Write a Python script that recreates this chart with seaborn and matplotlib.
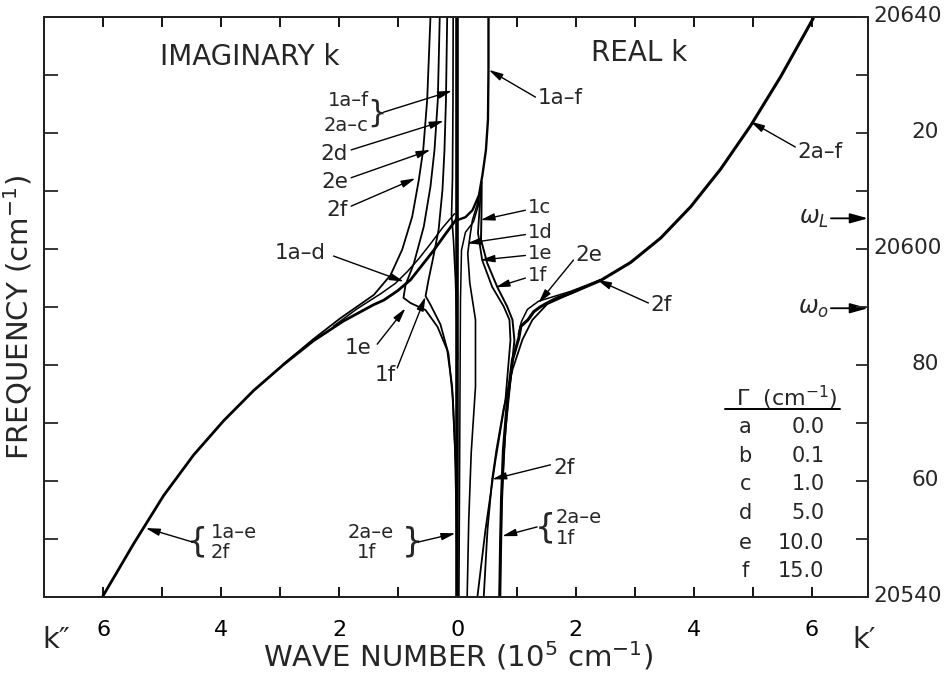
import matplotlib
matplotlib.use("Agg")
import matplotlib.pyplot as plt
import pandas as pd
import seaborn as sns

# ---------------------------------------------------------------------------
# Dispersion curves: wave number k (1e5 cm^-1) vs frequency (cm^-1).
# Imaginary parts k'' are drawn on the negative side, real parts k' on the
# positive side.  Branch 1 / 2, damping cases a-f.
# ---------------------------------------------------------------------------

# imaginary parts
im_1ad_k = [0.0, -0.203, -0.401, -0.609, -0.795, -1.015, -1.247, -1.421, -1.675, -1.929,
            -2.437, -2.944, -3.452, -3.959, -4.467, -4.975, -5.482, -6.007]
im_1ad_w = [20605.3, 20602.5, 20599.7, 20597.0, 20594.6, 20592.7, 20591.1, 20590.3,
            20588.9, 20587.5, 20584.1, 20580.0, 20575.5, 20570.3, 20564.4, 20557.4,
            20549.1, 20540.0]

im_1d_k = [-0.05, -0.25, -0.45, -0.65, -0.85, -1.05, -1.30, -1.70, -2.10]
im_1d_w = [20606.0, 20603.6, 20600.9, 20598.3, 20596.0, 20594.0, 20592.2, 20589.6, 20586.6]

im_2f_k = [-0.457, -0.513, -0.580, -0.655, -0.766, -0.936, -1.134, -1.416, -1.980, -2.437, -2.944]
im_2f_w = [20640.0, 20625.6, 20617.0, 20611.8, 20605.5, 20599.8, 20595.4, 20592.0,
           20588.0, 20584.4, 20580.1]

im_2e_k = [-0.30, -0.333, -0.389, -0.457, -0.570, -0.739, -0.88, -0.914, -0.795,
           -0.541, -0.338, -0.174, -0.090, -0.042, -0.017, 0.0]
im_2e_w = [20640.0, 20625.6, 20617.0, 20610.7, 20603.8, 20597.4, 20593.7, 20591.5,
           20590.6, 20589.4, 20586.5, 20582.5, 20576.2, 20565.3, 20553.2, 20540.0]

im_2d_k = [-0.174, -0.195, -0.22, -0.254, -0.32, -0.42, -0.49, -0.54, -0.457, -0.288,
           -0.152, -0.076, -0.025, 0.0]
im_2d_w = [20640.0, 20625.6, 20617.0, 20610.1, 20603.2, 20598.0, 20594.6, 20591.8,
           20590.3, 20586.9, 20581.8, 20573.9, 20561.8, 20549.7]

im_ax_k = [-0.073, -0.076, -0.085, -0.10, -0.068, -0.034, -0.008, 0.0]
im_ax_w = [20640.0, 20625.6, 20611.8, 20605.8, 20601.5, 20594.6, 20586.0, 20581.0]

axis_k = [0.0, 0.0]
axis_w = [20540.0, 20640.0]

# real parts
re_1_k = [0.525, 0.525, 0.516, 0.482, 0.423, 0.364, 0.254, 0.135, 0.0]
re_1_w = [20640.0, 20630.8, 20622.2, 20617.0, 20612.7, 20609.2, 20606.6, 20605.4, 20604.9]

re_1c_k = [0.364, 0.355, 0.271, 0.135, 0.068, 0.051, 0.042, 0.034, 0.025]
re_1c_w = [20609.2, 20607.5, 20604.6, 20602.8, 20599.7, 20591.1, 20573.9, 20556.6, 20540.0]

re_1d_k = [0.364, 0.333, 0.254, 0.22, 0.174, 0.208, 0.305, 0.305, 0.232, 0.191, 0.164]
re_1d_w = [20609.2, 20607.5, 20604.9, 20602.7, 20599.2, 20594.1, 20587.7, 20576.2,
           20564.7, 20553.2, 20540.0]

re_1e_k = [0.40, 0.372, 0.347, 0.418, 0.587, 0.783, 0.88, 0.897, 0.812, 0.643, 0.474, 0.338]
re_1e_w = [20611.0, 20606.6, 20602.7, 20598.0, 20593.4, 20590.0, 20587.7, 20584.2,
           20573.9, 20563.5, 20551.5, 20540.0]

re_1f_k = [0.41, 0.406, 0.398, 0.503, 0.672, 0.841, 0.931, 0.964, 0.897, 0.812, 0.745,
           0.728, 0.716]
re_1f_w = [20611.5, 20605.8, 20601.5, 20597.5, 20593.4, 20590.0, 20587.7, 20584.2,
           20577.3, 20568.7, 20556.6, 20548.0, 20540.0]

re_2_k = [6.024, 5.470, 4.964, 4.456, 3.948, 3.440, 2.932, 2.425, 1.917, 1.692, 1.518,
          1.396, 1.291, 1.193, 1.074, 1.037, 0.931, 0.846, 0.778, 0.745, 0.728, 0.716]
re_2_w = [20639.7, 20629.6, 20621.2, 20613.7, 20607.2, 20601.8, 20597.6, 20594.5,
          20592.3, 20591.5, 20590.6, 20589.9, 20589.1, 20587.7, 20586.6, 20584.5,
          20580.8, 20573.9, 20565.3, 20556.6, 20548.0, 20540.0]

re_2e_k = [2.42, 1.912, 1.624, 1.371, 1.184, 1.083, 1.03]
re_2e_w = [20594.6, 20592.6, 20591.7, 20590.9, 20589.5, 20587.4, 20585.2]

re_2f_k = [2.42, 1.912, 1.518, 1.269, 1.100, 0.931, 0.778, 0.660, 0.587, 0.508, 0.445]
re_2f_w = [20594.6, 20592.2, 20590.4, 20587.7, 20584.3, 20579.1, 20572.2, 20565.3,
           20560.2, 20551.5, 20540.0]

# damping table
gamma_case = ["a", "b", "c", "d", "e", "f"]
gamma_val = [0.0, 0.1, 1.0, 5.0, 10.0, 15.0]

# axis labelling
k_ticks = [-6, -4, -2, 0, 2, 4, 6]
k_tick_labels = ["6", "4", "2", "0", "2", "4", "6"]
w_right = [20640, 20620, 20600, 20580, 20560, 20540]
w_right_labels = ["20640", "20", "20600", "80", "60", "20540"]
omega_L = 20605.2
omega_0 = 20589.7

curves = [
    ("axis", axis_k, axis_w, 2.6),
    ("im 1a-d", im_1ad_k, im_1ad_w, 2.0),
    ("im 1d", im_1d_k, im_1d_w, 1.1),
    ("im 2f", im_2f_k, im_2f_w, 1.3),
    ("im 2e", im_2e_k, im_2e_w, 1.3),
    ("im 2d", im_2d_k, im_2d_w, 1.3),
    ("im 1a-f", im_ax_k, im_ax_w, 1.2),
    ("re 1", re_1_k, re_1_w, 1.7),
    ("re 1c", re_1c_k, re_1c_w, 1.1),
    ("re 1d", re_1d_k, re_1d_w, 1.2),
    ("re 1e", re_1e_k, re_1e_w, 1.3),
    ("re 1f", re_1f_k, re_1f_w, 1.4),
    ("re 2a-d", re_2_k, re_2_w, 2.2),
    ("re 2e", re_2e_k, re_2e_w, 1.1),
    ("re 2f", re_2f_k, re_2f_w, 1.3),
]

sns.set_theme(style="white")
plt.rcParams["font.family"] = ["DejaVu Sans"]
plt.rcParams["mathtext.fontset"] = "dejavusans"

W, H = 950, 679
fig = plt.figure(figsize=(W / 100, H / 100), dpi=100)
ax = fig.add_axes([44 / W, 82.5 / H, 824 / W, 580 / H])

for name, ks, ws, lw in curves:
    df = pd.DataFrame({"k": ks, "freq": ws})
    sns.lineplot(data=df, x="k", y="freq", sort=False, estimator=None, color="black",
                 lw=lw, ax=ax, legend=False)

ax.set_xlim(-7.0, 6.95)
ax.set_ylim(20540, 20640)
for s in ax.spines.values():
    s.set_visible(True)
    s.set_color("black")
    s.set_linewidth(1.4)

ax.set_xticks(range(-6, 7))
ax.set_xticklabels([k_tick_labels[k_ticks.index(t)] if t in k_ticks else "" for t in range(-6, 7)],
                   fontsize=16)
ax.tick_params(axis="x", which="major", direction="in", length=7.5, width=1.3,
               bottom=True, top=True, pad=17, colors="black")
ax.set_yticks(range(20540, 20641, 10))
ax.set_yticklabels([])
ax.tick_params(axis="y", which="major", direction="in", length=10, width=1.3,
               left=True, right=False)
ax2 = ax.twinx()
ax2.set_ylim(ax.get_ylim())
ax2.set_yticks(range(20540, 20641, 10))
ax2.set_yticklabels([])
ax2.tick_params(axis="y", direction="in", length=8.5, width=1.3, right=True, left=False)
ax2.grid(False)
ax.grid(False)
ax.set_xlabel("")
ax.set_ylabel("")

ytr = ax.get_yaxis_transform()
for w, lab in zip(w_right, w_right_labels):
    if len(lab) > 2:
        ax.text(1.007, w, lab, transform=ytr, ha="left", va="center", fontsize=15.5)
    else:
        ax.text(1.086, w, lab, transform=ytr, ha="right", va="center", fontsize=15.5)

# frequency markers on the right edge
for w, lab in [(omega_L, r"$\omega_L$"), (omega_0, r"$\omega_o$")]:
    ax.annotate("", xy=(1.0, w), xytext=(0.955, w), xycoords=ytr, textcoords=ytr,
                arrowprops=dict(arrowstyle="-|>,head_length=0.9,head_width=0.25",
                                color="black", lw=1.3, shrinkA=0, shrinkB=0))
    ax.text(0.953, w, lab, transform=ytr, ha="right", va="center", fontsize=17)

# titles inside the frame
ax.text(0.250, 0.930, "IMAGINARY k", transform=ax.transAxes, ha="center", va="center",
        fontsize=20)
ax.text(0.722, 0.937, "REAL k", transform=ax.transAxes, ha="center", va="center",
        fontsize=20)

fig.text(458 / W, 1 - 656 / H, "WAVE NUMBER (10$^5$ cm$^{-1}$)", ha="center", va="center",
         fontsize=21)
fig.text(18 / W, 1 - 318 / H, "FREQUENCY (cm$^{-1}$)", ha="center", va="center",
         rotation=90, fontsize=21)
fig.text(56 / W, 1 - 640 / H, "k\u2033", ha="center", va="center", fontsize=21)
fig.text(864 / W, 1 - 640 / H, "k\u2032", ha="center", va="center", fontsize=21)

# curve labels with leader arrows
ARROW = dict(arrowstyle="-|>,head_length=0.7,head_width=0.18", color="black", lw=1.0,
             shrinkA=0, shrinkB=0)


def leader(tip, tail):
    ax.annotate("", xy=tip, xytext=tail, arrowprops=ARROW)


LAB = 15.5
STK = 14
ax.text(1.354, 20625.9, "1a\u2013f", fontsize=LAB, ha="left", va="center")
leader((0.53, 20630.8), (1.32, 20626.1))

ax.text(-1.50, 20625.5, "1a\u2013f", fontsize=STK, ha="right", va="center")
ax.text(-1.50, 20621.2, "2a\u2013c", fontsize=STK, ha="right", va="center")
ax.text(-1.36, 20623.3, "}", fontsize=22, ha="center", va="center")
leader((-0.090, 20627.2), (-1.252, 20623.5))

ax.text(-1.85, 20616.3, "2d", fontsize=LAB, ha="right", va="center")
leader((-0.232, 20622.0), (-1.80, 20617.0))
ax.text(-1.85, 20611.5, "2e", fontsize=LAB, ha="right", va="center")
leader((-0.457, 20617.0), (-1.80, 20612.2))
ax.text(-1.85, 20606.6, "2f", fontsize=LAB, ha="right", va="center")
leader((-0.711, 20612.1), (-1.80, 20607.3))

ax.text(-2.657, 20599.2, "1a\u2013d", fontsize=LAB, ha="center", va="center")
leader((-0.909, 20594.3), (-2.098, 20598.7))
ax.text(-1.684, 20582.8, "1e", fontsize=LAB, ha="center", va="center")
leader((-0.88, 20589.7), (-1.359, 20583.5))
ax.text(-1.218, 20578.2, "1f", fontsize=LAB, ha="center", va="center")
leader((-0.541, 20591.7), (-1.02, 20579.4))

for lab, w, tip in [("1c", 20607.0, (0.389, 20604.9)), ("1d", 20602.8, (0.164, 20600.9)),
                    ("1e", 20599.2, (0.389, 20598.0)), ("1f", 20595.3, (0.643, 20593.3))]:
    ax.text(1.184, w, lab, fontsize=STK, ha="left", va="center")
    leader(tip, (1.15, w - 0.4))

ax.text(1.997, 20598.9, "2e", fontsize=LAB, ha="left", va="center")
leader((1.371, 20590.6), (1.963, 20598.0))
ax.text(3.266, 20590.3, "2f", fontsize=LAB, ha="left", va="center")
leader((2.364, 20594.6), (3.232, 20590.6))
ax.text(5.753, 20616.6, "2a\u2013f", fontsize=LAB, ha="left", va="center")
leader((4.958, 20621.9), (5.719, 20617.5))

# lower labels
ax.text(-4.404, 20549.4, "{", fontsize=24, ha="center", va="center")
ax.text(-4.179, 20551.1, "1a\u2013e", fontsize=STK, ha="left", va="center")
ax.text(-4.179, 20547.6, "2f", fontsize=STK, ha="left", va="center")
leader((-5.279, 20551.8), (-4.489, 20549.4))

ax.text(-1.861, 20551.1, "2a\u2013e", fontsize=STK, ha="left", va="center")
ax.text(-1.709, 20547.6, "1f", fontsize=STK, ha="left", va="center")
ax.text(-0.766, 20549.4, "}", fontsize=24, ha="center", va="center")
leader((-0.034, 20550.9), (-0.66, 20549.4))

ax.text(1.489, 20551.8, "{", fontsize=24, ha="center", va="center")
ax.text(1.658, 20553.6, "2a\u2013e", fontsize=STK, ha="left", va="center")
ax.text(1.658, 20550.0, "1f", fontsize=STK, ha="left", va="center")
leader((0.756, 20550.4), (1.349, 20552.0))

ax.text(1.624, 20562.2, "2f", fontsize=LAB, ha="left", va="center")
leader((0.587, 20560.2), (1.574, 20562.7))

# damping table
tx = ax.transAxes
ax.text(0.902, 0.342, "\u0393  (cm$^{-1}$)", transform=tx, ha="center", va="center",
        fontsize=16)
ax.plot([0.826, 0.966], [0.323, 0.323], transform=tx, color="black", lw=1.4)
row_y = [0.2917, 0.2428, 0.1934, 0.1434, 0.0928, 0.0445]
for c, v, y in zip(gamma_case, gamma_val, row_y):
    ax.text(0.851, y, c, transform=tx, ha="center", va="center", fontsize=15)
    ax.text(0.947, y, f"{v:.1f}", transform=tx, ha="right", va="center", fontsize=15)

fig.savefig("out.png", dpi=100, facecolor="white")
